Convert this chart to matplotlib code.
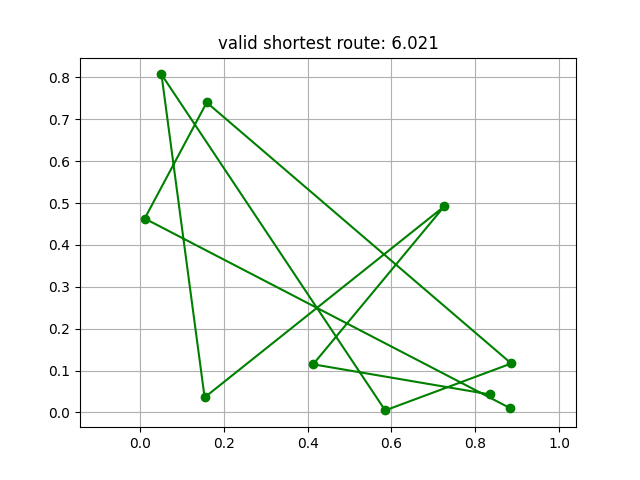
import matplotlib
matplotlib.use("Agg")
import matplotlib.pyplot as plt

# route order: I, E, D, F, A, G, H, B, C, J
route_x = [0.836, 0.413, 0.726, 0.154, 0.051, 0.585, 0.886, 0.159, 0.011, 0.884]
route_y = [0.043, 0.115, 0.492, 0.036, 0.807, 0.005, 0.117, 0.740, 0.463, 0.010]
route_length = 6.021

fig = plt.figure(figsize=(6.4, 4.8), dpi=100)
plt.plot(route_x, route_y, "o-", color="green")
plt.axis("equal")
plt.grid(True)
plt.title(f"valid shortest route: {route_length:.3f}")
plt.savefig("out.png")
